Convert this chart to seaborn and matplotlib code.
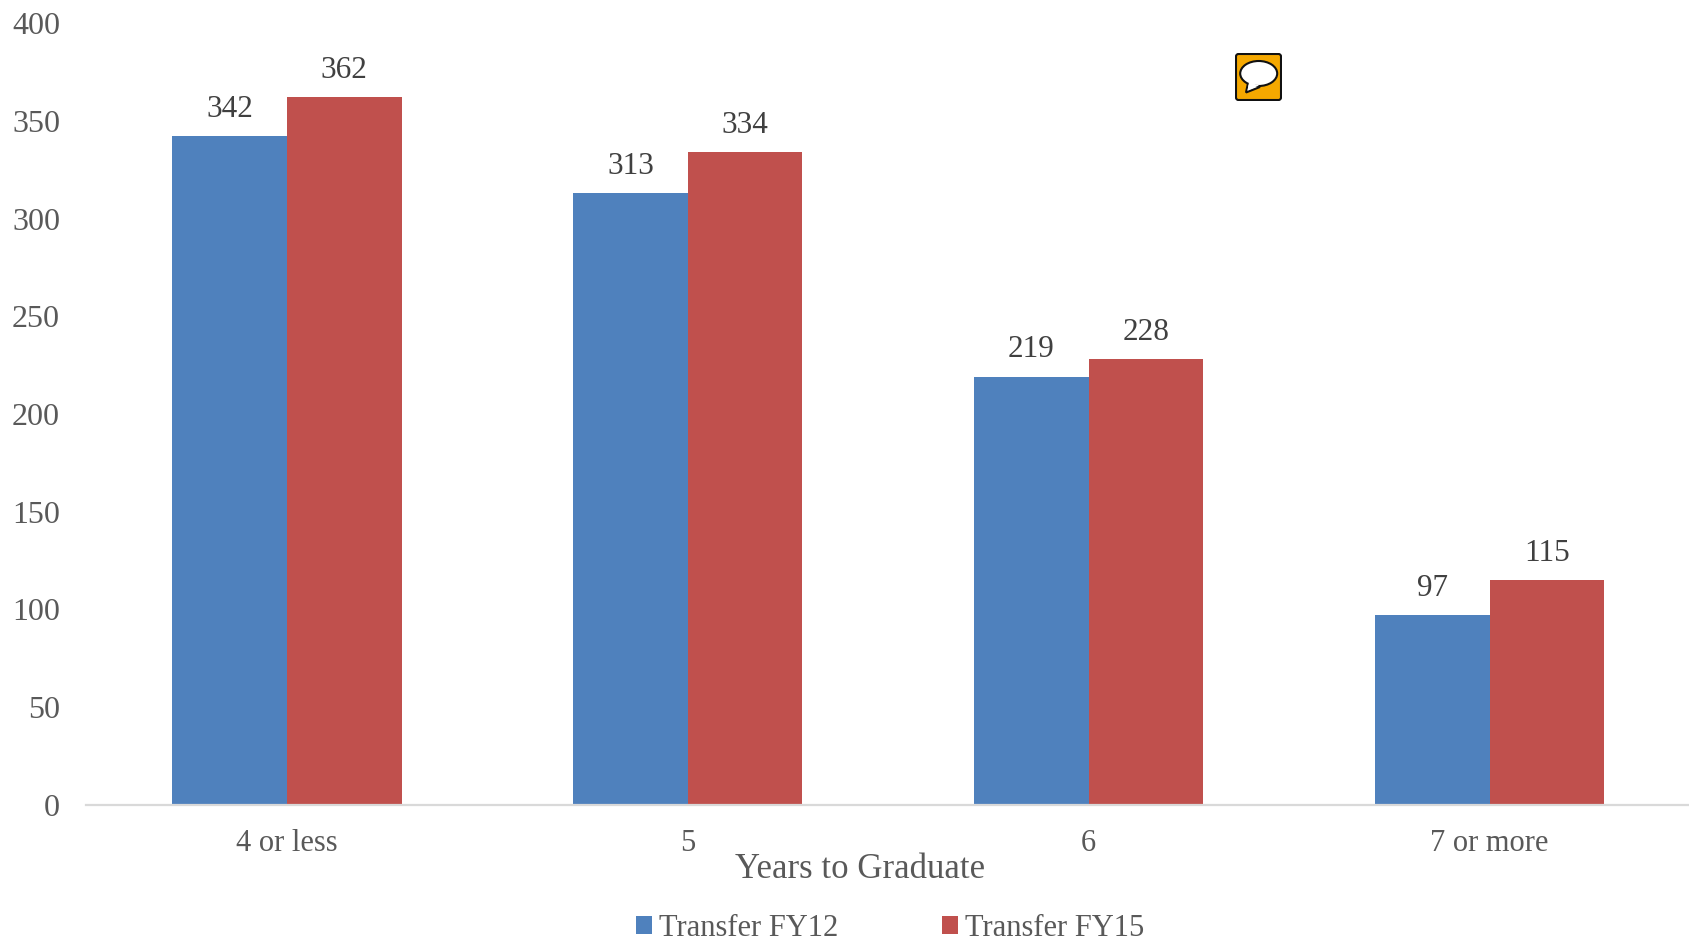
import pandas as pd
import matplotlib
matplotlib.use('Agg')
import matplotlib.pyplot as plt
from matplotlib.patches import FancyBboxPatch, Ellipse, Polygon
import seaborn as sns

# Values
categorias = ['4 or less', '5', '6', '7 or more']
fy12 = [342, 313, 219, 97]
fy15 = [362, 334, 228, 115]
series = ['Transfer FY12', 'Transfer FY15']
cores = ['#4F81BD', '#C0504D']
yticks = [0, 50, 100, 150, 200, 250, 300, 350, 400]

df = pd.DataFrame({
    'Years': categorias * 2,
    'Valor': fy12 + fy15,
    'Serie': [series[0]] * 4 + [series[1]] * 4,
})

sns.set_theme(style='white')
plt.rcParams['font.family'] = ['Liberation Serif', 'DejaVu Serif']

W, H = 1690, 940
fig = plt.figure(figsize=(W / 100, H / 100), dpi=100)
ax = fig.add_axes([86.5 / W, (H - 805) / H, (W - 86.5) / W, (805 - 23) / H])

sns.barplot(data=df, x='Years', y='Valor', hue='Serie', palette=cores,
            saturation=1, width=0.572, gap=0, linewidth=0, ax=ax,
            order=categorias, hue_order=series)

# Rotulos em cima das barras
for cont in ax.containers:
    ax.bar_label(cont, padding=9, fontsize=22.5, color='#404040')

ax.set_ylim(0, 400)
ax.set_xlim(-0.5, 3.5)
ax.set_yticks(yticks)
ax.tick_params(axis='y', length=0, pad=19, labelsize=23, labelcolor='#595959')
ax.tick_params(axis='x', length=0, pad=17, labelsize=22, labelcolor='#595959')
ax.set_ylabel('')
ax.set_xlabel('Years to Graduate', fontsize=25, color='#595959')
ax.xaxis.set_label_coords((860 - 86.5) / (W - 86.5), -(853 - 805) / (805 - 23))

for lado in ['top', 'right', 'left']:
    ax.spines[lado].set_visible(False)
ax.spines['bottom'].set_color('#D9D9D9')
ax.spines['bottom'].set_linewidth(1.6)

# Legenda embaixo
ax.legend(loc='center', bbox_to_anchor=(890 / W, (H - 928) / H), bbox_transform=fig.transFigure,
          ncols=2, frameon=False, fontsize=22, labelcolor='#595959',
          handlelength=0.52, handleheight=0.52, handletextpad=0.23, columnspacing=3.4,
          borderpad=0, borderaxespad=0)

# Icone de comentario
icone = fig.add_axes([1235 / W, (H - 101) / H, 47 / W, 48 / H])
icone.set_xlim(0, 47)
icone.set_ylim(0, 48)
icone.axis('off')
icone.add_patch(FancyBboxPatch((1, 1), 45, 46, boxstyle='round,pad=0,rounding_size=2.5',
                               fc='#F5A800', ec='#111111', lw=1.5))
icone.add_patch(Polygon([[13, 18], [11, 8.5], [25, 14]], fc='white', ec='#111111', lw=1.5))
icone.add_patch(Ellipse((23.7, 27.5), 37, 25, fc='white', ec='#111111', lw=1.5))
icone.add_patch(Polygon([[14, 19], [12.5, 10.5], [24, 15.5]], fc='white', ec='none'))

fig.savefig('out.png', dpi=100, facecolor='white')
